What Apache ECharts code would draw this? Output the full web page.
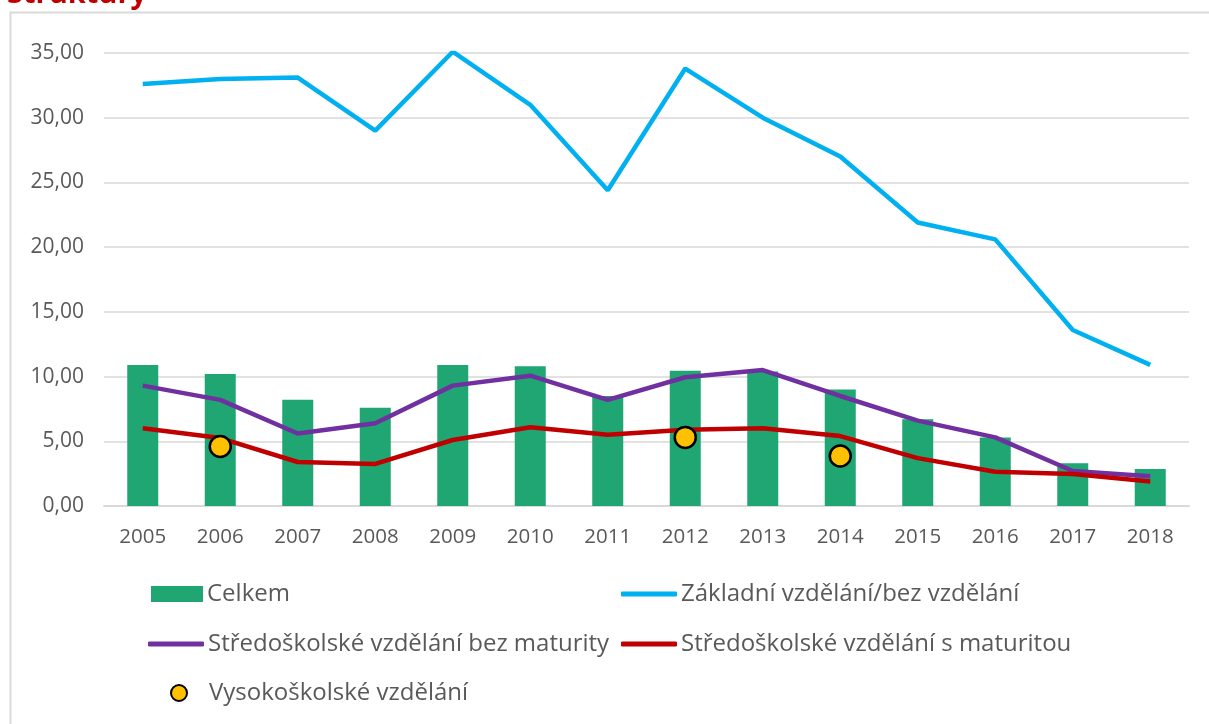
<!DOCTYPE html>
<html><head><meta charset="utf-8">
<script src="https://cdn.jsdelivr.net/npm/echarts@6/dist/echarts.min.js"></script>
<style>html,body{margin:0;padding:0;background:#fff}#c{width:1209px;height:724px}</style>
</head><body><div id="c"></div>
<script>
const years = ['2005','2006','2007','2008','2009','2010','2011','2012','2013','2014','2015','2016','2017','2018'];
const celkem = [10.9,10.2,8.2,7.6,10.9,10.8,8.5,10.45,10.4,9.0,6.7,5.3,3.3,2.85];
const zakladni = [32.6,33.0,33.1,29.0,35.1,31.0,24.4,33.8,30.0,27.0,21.9,20.6,13.6,10.9];
const bezMaturity = [9.3,8.2,5.6,6.4,9.3,10.07,8.2,9.95,10.5,8.5,6.6,5.3,2.7,2.3];
const sMaturitou = [6.0,5.25,3.4,3.25,5.1,6.08,5.5,5.9,6.0,5.4,3.7,2.65,2.47,1.9];
const vysokoskolske = [null,4.6,null,null,null,null,null,5.3,null,3.86,null,null,null,null];
const yTicks = [0,5,10,15,20,25,30,35];

const FONT = 'Open Sans';
const TXT = '#595959';
const chart = echarts.init(document.getElementById('c'));
const legendBase = {
  orient:'horizontal', itemWidth:56, itemHeight:5, itemGap:0, padding:0,
  textStyle:{fontFamily:FONT, fontSize:24, color:TXT, padding:[0,0,0,-1]}
};
chart.setOption({
  animation:false,
  graphic:[{type:'rect', shape:{x:10.5,y:12.5,width:1300,height:800}, style:{fill:'none', stroke:'#D9D9D9', lineWidth:2}, z:-1}],
  title:{text:'Struktury', left:7, top:-20, padding:0, textStyle:{fontFamily:'Open Sans', fontWeight:'bold', fontSize:29, color:'#C00000'}},
  grid:{left:104, right:20, top:53, height:453, containLabel:false},
  xAxis:{type:'category', data:years, boundaryGap:true,
    axisLine:{lineStyle:{color:'#D9D9D9', width:2}}, axisTick:{show:false},
    axisLabel:{fontFamily:FONT, fontSize:20.5, color:TXT, margin:21}},
  yAxis:{type:'value', min:0, max:35, interval:5,
    axisLine:{show:false}, axisTick:{show:false},
    splitLine:{lineStyle:{color:'#D9D9D9', width:1.5}},
    axisLabel:{fontFamily:FONT, fontSize:21, color:TXT, margin:20, formatter:v=>yTicks.includes(v)?v.toFixed(2).replace('.',','):''}},
  legend:[
    Object.assign({}, legendBase, {left:151, top:582, data:[{name:'Celkem', icon:'rect'}], itemWidth:52, itemHeight:16}),
    Object.assign({}, legendBase, {left:621, top:582, data:[{name:'Základní vzdělání/bez vzdělání', icon:'roundRect'}]}),
    Object.assign({}, legendBase, {left:148, top:632, data:[{name:'Středoškolské vzdělání bez maturity', icon:'roundRect'}]}),
    Object.assign({}, legendBase, {left:621, top:632, data:[{name:'Středoškolské vzdělání s maturitou', icon:'roundRect'}]}),
    Object.assign({}, legendBase, {left:170, top:681, itemWidth:16, itemHeight:16, textStyle:{fontFamily:FONT, fontSize:24, color:TXT, padding:[0,0,0,17]}, data:[{name:'Vysokoškolské vzdělání', icon:'circle'}]})
  ],
  series:[
    {name:'Celkem', type:'bar', data:celkem, barWidth:31, itemStyle:{color:'#1FA672'}, z:1},
    {name:'Základní vzdělání/bez vzdělání', type:'line', data:zakladni, symbol:'none', lineStyle:{color:'#00B0F0', width:4.5}, itemStyle:{color:'#00B0F0'}, z:3},
    {name:'Středoškolské vzdělání bez maturity', type:'line', data:bezMaturity, symbol:'none', lineStyle:{color:'#7030A0', width:4.5}, itemStyle:{color:'#7030A0'}, z:3},
    {name:'Středoškolské vzdělání s maturitou', type:'line', data:sMaturitou, symbol:'none', lineStyle:{color:'#C00000', width:4.5}, itemStyle:{color:'#C00000'}, z:4},
    {name:'Vysokoškolské vzdělání', type:'scatter', data:vysokoskolske, symbol:'circle', symbolSize:21, itemStyle:{color:'#FFC000', opacity:1, borderColor:'#000', borderWidth:2.5}, z:5}
  ]
});
</script></body></html>
